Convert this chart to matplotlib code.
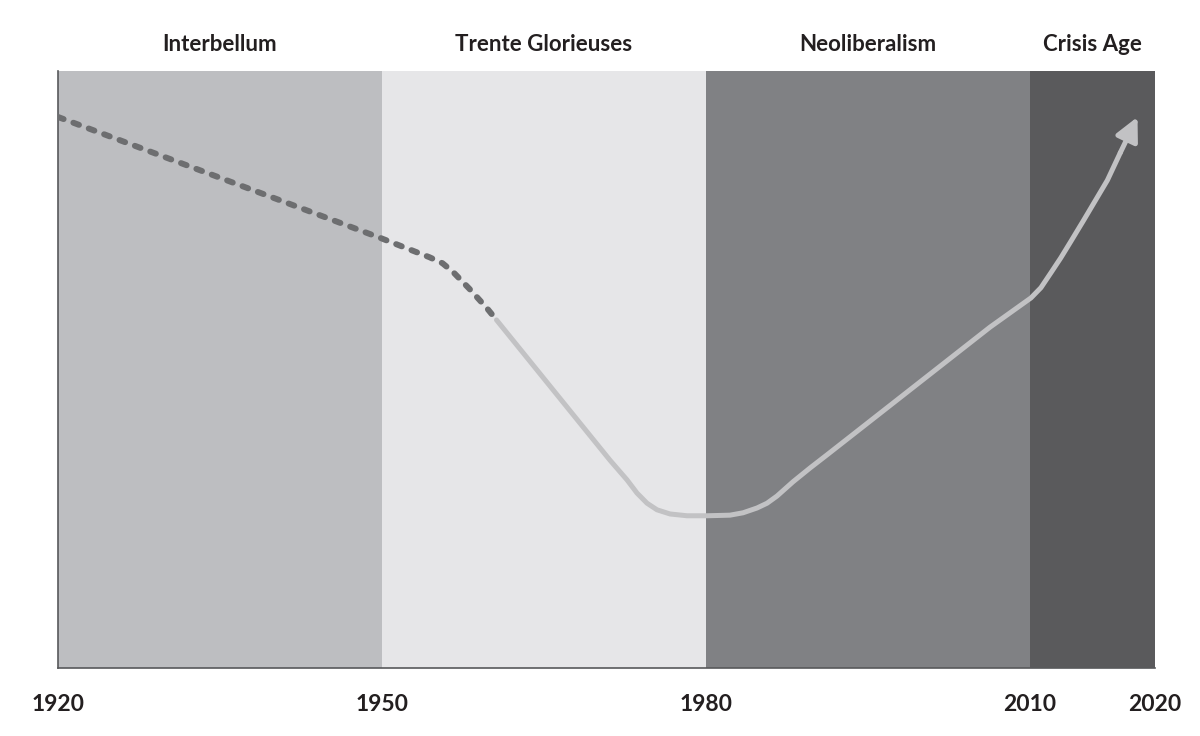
import numpy as np
import matplotlib
matplotlib.use("Agg")
import matplotlib.pyplot as plt
from matplotlib.transforms import blended_transform_factory

# ---- data ----
era_names = ["Interbellum", "Trente Glorieuses", "Neoliberalism", "Crisis Age"]
era_start = [1920, 1950, 1980, 2010]
era_end = [1950, 1980, 2010, 2020]
era_colors = ["#bdbec1", "#e6e6e8", "#808184", "#5a5a5c"]

tick_years = [1920, 1950, 1980, 2010, 2020]

dash_x = [1920.0, 1949.9, 1954.4, 1955.6, 1956.6, 1958.1, 1959.7, 1960.6]
dash_y = [92.3, 72.0, 68.8, 67.8, 66.3, 63.5, 60.3, 58.3]

solid_x = [1960.6, 1971.11, 1972.69, 1973.61, 1974.54, 1975.46, 1976.67,
           1978.24, 1980.09, 1982.22, 1983.43, 1984.72, 1985.65, 1986.57, 1988.06,
           1989.63, 1991.20, 2006.30, 2010.08, 2010.87, 2011.67, 2012.46,
           2013.25, 2014.29, 2016.19, 2017.22]
solid_y = [58.3, 34.8, 31.5, 29.3, 27.6, 26.5, 25.8,
           25.5, 25.5, 25.6, 26.0, 26.8, 27.6, 28.8, 31.2,
           33.5, 35.7, 57.1, 62.0, 63.7, 66.2, 68.7,
           71.4, 75.0, 81.7, 86.3]
arrow_tip = (2018.6, 92.3)

# piecewise axis (last decade drawn wider)
scale_years = [1920, 1950, 1980, 2010, 2020]
scale_pos = [0, 30, 60, 90, 101.57]

def fwd(v):
    return np.interp(v, scale_years, scale_pos, left=-1e9, right=1e9)

def inv(v):
    return np.interp(v, scale_pos, scale_years)

fig = plt.figure(figsize=(12, 7.36), dpi=100)
ax = fig.add_axes([58/1200, 1-668/736, (1155-58)/1200, (668-71)/736])
ax.set_xscale("function", functions=(fwd, inv))
ax.set_xlim(1920, 2020)
ax.set_ylim(0, 100)

for s, e, c in zip(era_start, era_end, era_colors):
    ax.axvspan(s, e, color=c, lw=0, zorder=0)

ax.plot(dash_x, dash_y, color="#6d6e70", lw=4.3, dashes=(1.0, 1.75),
        dash_capstyle="round", solid_joinstyle="round", zorder=3)
ax.plot(solid_x, solid_y, color="#c2c2c4", lw=3.6, solid_capstyle="round",
        solid_joinstyle="round", zorder=3)
ax.annotate("", xy=arrow_tip, xytext=(solid_x[-1], solid_y[-1]),
            arrowprops=dict(arrowstyle="-|>,head_length=1.4,head_width=0.7",
                            color="#c2c2c4", lw=3.6, shrinkA=0, shrinkB=0),
            zorder=4)

font = "Lato"
trans = blended_transform_factory(ax.transData, ax.transAxes)
for name, s, e in zip(era_names, era_start, era_end):
    ax.text((s + e) / 2, 1.045, name, transform=trans, ha="center", va="center",
            fontsize=16, fontweight="bold", family=font, color="#231f20")

ax.set_xticks(tick_years)
ax.set_xticklabels([str(t) for t in tick_years], fontsize=16.5, fontweight="bold",
                   family=font, color="#231f20")
ax.tick_params(axis="x", length=0, pad=19)
ax.set_yticks([])
for sp in ["top", "right"]:
    ax.spines[sp].set_visible(False)
for sp in ["left", "bottom"]:
    ax.spines[sp].set_color("#58595b")
    ax.spines[sp].set_linewidth(1.2)

fig.savefig("out.png", dpi=100, facecolor="white")
